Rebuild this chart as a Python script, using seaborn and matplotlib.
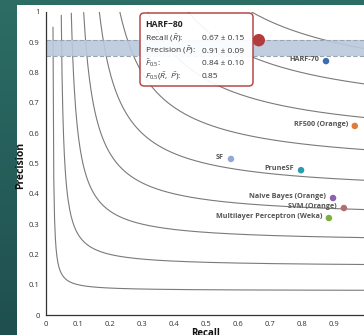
import numpy as np
import pandas as pd
import seaborn as sns
import matplotlib.pyplot as plt
from matplotlib.patches import Rectangle, FancyBboxPatch

# data
methods = ["HARF-80", "HARF-70", "RF500 (Orange)", "SF", "PruneSF",
           "Naive Bayes (Orange)", "SVM (Orange)", "Multilayer Perceptron (Weka)"]
recall = [0.665, 0.875, 0.965, 0.578, 0.797, 0.897, 0.931, 0.884]
precision = [0.907, 0.838, 0.624, 0.515, 0.478, 0.386, 0.353, 0.320]
colors = ["#b23b3b", "#3b6db3", "#e07b39", "#92a9d6", "#2b9cb0",
          "#8a62ad", "#b06e6e", "#7bb041"]
f_levels = [0.1, 0.2, 0.3, 0.4, 0.5, 0.6, 0.7, 0.8, 0.9]
beta = 0.5
band = (0.855, 0.908)
ticks = [0, 0.1, 0.2, 0.3, 0.4, 0.5, 0.6, 0.7, 0.8, 0.9, 1]
tick_labels = ["0", "0.1", "0.2", "0.3", "0.4", "0.5", "0.6", "0.7", "0.8", "0.9", "1"]

sns.set_style("white")
plt.rcParams["font.family"] = ["Open Sans", "DejaVu Sans"]
plt.rcParams["mathtext.fontset"] = "custom"
plt.rcParams["mathtext.rm"] = "Open Sans"
plt.rcParams["mathtext.it"] = "Open Sans:italic"
plt.rcParams["mathtext.bf"] = "Open Sans:bold"

W, H = 364, 335
fig = plt.figure(figsize=(W / 100, H / 100), dpi=100)


def px(x, y):
    return x / W, 1 - y / H


# teal background with a soft gradient, white panel on top
bg = fig.add_axes([0, 0, 1, 1], zorder=-10)
grad = np.linspace(0, 1, 256).reshape(-1, 1)
bg.imshow(grad, aspect="auto", cmap=sns.blend_palette(["#2c6d65", "#1f4f4f"], as_cmap=True),
          extent=[0, 1, 0, 1])
bg.axis("off")
fig.patches.append(Rectangle(px(17, 335), (W - 17) / W, (335 - 5) / H,
                             transform=fig.transFigure, facecolor="white",
                             edgecolor="none", zorder=-5))

ax = fig.add_axes([46 / W, 20 / H, 320 / W, 303 / H])
ax.patch.set_alpha(0)

# F-beta iso lines
rows = []
b2 = beta ** 2
for f in f_levels:
    r0 = b2 * f / (1 + b2 - f)
    r = np.linspace(r0 + 1e-4, 1.0, 400)
    p = f * r / ((1 + b2) * r - b2 * f)
    keep = p <= 1.0
    rows.append(pd.DataFrame({"recall": r[keep], "precision": p[keep], "F": f}))
curves = pd.concat(rows)
sns.lineplot(data=curves, x="recall", y="precision", units="F", estimator=None,
             color="#7a7a7a", lw=0.8, sort=False, ax=ax, zorder=1)

# highlighted band
ax.axhspan(band[0], band[1], color="#b9c9dd", alpha=0.9, zorder=2, lw=0)
for yb in band:
    ax.axhline(yb, color="#9aa4b0", lw=0.8, ls=(0, (4, 2)), zorder=2)

df = pd.DataFrame({"method": methods, "recall": recall, "precision": precision})
sizes = [80] + [22] * (len(methods) - 1)
sns.scatterplot(data=df, x="recall", y="precision", hue="method",
                palette=colors, size="method", sizes=dict(zip(methods, sizes)),
                legend=False, edgecolor="none", ax=ax, zorder=5)

for m, r, p in zip(methods[1:], recall[1:], precision[1:]):
    ax.annotate(m, (r, p), xytext=(-5, 1), textcoords="offset points",
                ha="right", va="center", fontsize=5.2, fontweight="bold",
                color="#555555", zorder=6)

ax.set_xlim(0, 1)
ax.set_ylim(0, 1)
ax.set_xticks(ticks)
ax.set_xticklabels(tick_labels)
ax.set_yticks(ticks)
ax.set_yticklabels(tick_labels)
ax.tick_params(labelsize=5.5, colors="#333333", length=3, width=0.7, pad=1.5)
for s in ["top", "right"]:
    ax.spines[s].set_visible(False)
for s in ["left", "bottom"]:
    ax.spines[s].set_color("#333333")
    ax.spines[s].set_linewidth(0.9)
ax.set_xlabel("")
ax.set_ylabel("")

fig.text(*px(206, 327.5), "Recall", ha="center", va="top", fontsize=7,
         fontweight="bold", color="#111111")
fig.text(*px(21, 165), "Precision", ha="center", va="center", fontsize=7.5,
         fontweight="bold", color="#111111", rotation=90)

# tooltip
x0, y0, x1, y1 = 140, 13, 253, 86
tip = FancyBboxPatch(px(x0, y1), (x1 - x0) / W, (y1 - y0) / H,
                     boxstyle="round,pad=0,rounding_size=0.012",
                     transform=fig.transFigure, facecolor="white", alpha=0.93,
                     edgecolor="#b23b3b", lw=1.1, zorder=10)
fig.patches.append(tip)
fig.text(*px(145, 27), "HARF\u221280", fontsize=6.2, fontweight="bold",
         color="#222222", va="baseline", zorder=11)
tip_rows = [(r"Recall ($\bar{R}$):", "0.67 \u00b1 0.15"),
            (r"Precision ($\bar{P}$):", "0.91 \u00b1 0.09"),
            (r"$\bar{F}_{0.5}$:", "0.84 \u00b1 0.10"),
            (r"$F_{0.5}(\bar{R},\ \bar{P})$:", "0.85")]
for i, (lab, val) in enumerate(tip_rows):
    yy = 40 + i * 12.7
    fig.text(*px(145, yy), lab, fontsize=6, color="#333333", va="baseline", zorder=11)
    fig.text(*px(202, yy), val, fontsize=6, color="#333333", va="baseline", zorder=11)

fig.savefig("out.png", dpi=100)
